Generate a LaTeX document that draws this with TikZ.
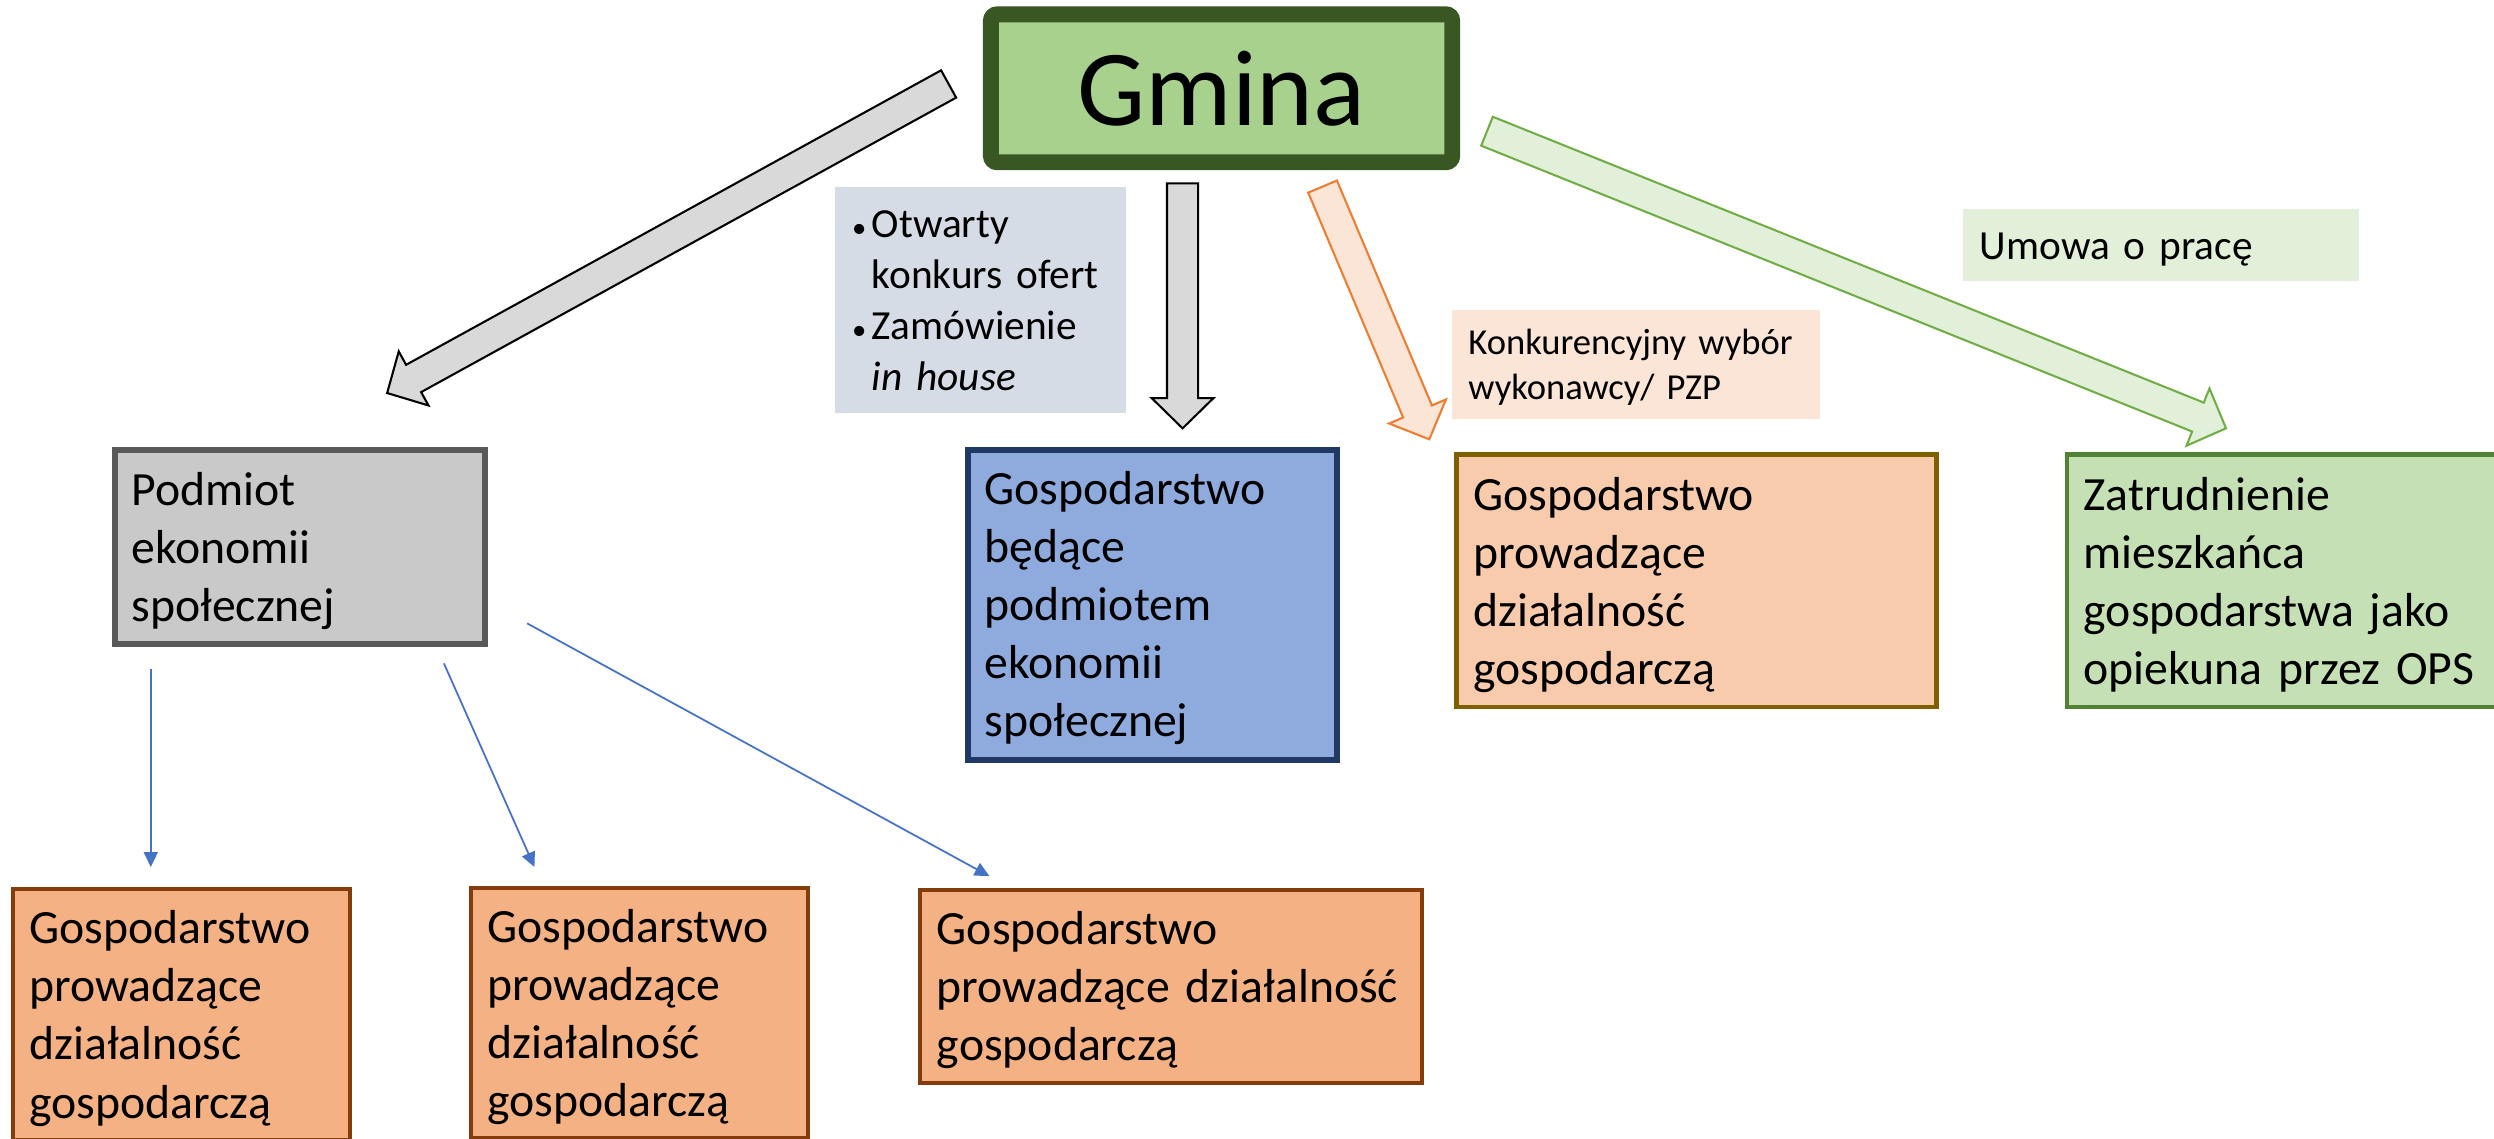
\documentclass[tikz,border=0pt]{standalone}
\usepackage{fontspec}
\setmainfont{Carlito}
\usetikzlibrary{arrows.meta,calc}

\definecolor{gminaFill}{HTML}{A9D18E}
\definecolor{gminaLine}{HTML}{385723}
\definecolor{greyFill}{HTML}{C9C9C9}
\definecolor{greyLine}{HTML}{595959}
\definecolor{pesFill}{HTML}{8FAADC}
\definecolor{pesLine}{HTML}{203864}
\definecolor{dgFill}{HTML}{F8CBAD}
\definecolor{dgLine}{HTML}{7F6000}
\definecolor{opsFill}{HTML}{C5E0B4}
\definecolor{opsLine}{HTML}{548235}
\definecolor{gospFill}{HTML}{F4B183}
\definecolor{gospLine}{HTML}{843C0C}
\definecolor{ofertFill}{HTML}{D6DCE5}
\definecolor{konkFill}{HTML}{FBE5D6}
\definecolor{umowaFill}{HTML}{E2F0D9}
\definecolor{arrGrey}{HTML}{D9D9D9}
\definecolor{arrOrange}{HTML}{ED7D31}
\definecolor{arrGreen}{HTML}{70AD47}
\definecolor{linkBlue}{HTML}{4472C4}

\newcommand{\pstrut}{\rule[-0.27em]{0pt}{1.22em}}
\newcommand{\pkt}{\makebox[12.4pt][l]{\fontsize{18}{18}\selectfont\textbullet}}
\newcommand{\blockarrow}[3][]{%
	\path ($(#3)!19pt!(#2)$) coordinate (bh);
	\draw[#1] ($(#2)!9.8pt!90:(#3)$) -- ($(bh)!9.8pt!-90:(#2)$) -- ($(bh)!19.4pt!-90:(#2)$) -- (#3)
		-- ($(bh)!19.4pt!90:(#2)$) -- ($(bh)!9.8pt!90:(#2)$) -- ($(#2)!9.8pt!-90:(#3)$) -- cycle;}

\begin{document}
\begin{tikzpicture}[x=1pt,y=-1pt,
		box/.style={draw, rectangle, align=left, inner xsep=10.5pt, inner ysep=0pt, outer sep=0pt,
			font=\fontsize{30}{36.5}\selectfont, execute at begin node=\pstrut, execute at end node=\pstrut},
		lbl/.style={rectangle, align=left, inner xsep=10.5pt, inner ysep=0pt, outer sep=0pt,
			execute at begin node=\pstrut, execute at end node=\pstrut},
		link/.style={-{Triangle[length=9.3pt,width=8.7pt]}, draw=linkBlue, line width=1.1pt}]
	\useasboundingbox (0,0) rectangle (1568,715.5);
	\clip (0,0) rectangle (1568,715.5);

	\node[box, align=center, fill=gminaFill, draw=gminaLine, line width=10pt, rounded corners=4pt,
		minimum width=290pt, minimum height=93pt, font=\fontsize{68}{83}\selectfont] (gmina) at (768,55.5) {Gmina};

	\node[lbl, fill=ofertFill, minimum width=182.8pt, minimum height=142.5pt, text width=161.8pt,
		font=\fontsize{26}{32}\selectfont] (tryb) at (616.6,188.65)
		{\pkt Otwarty\\\hspace*{12.4pt}konkurs ofert\\\pkt Zamówienie\\\hspace*{12.4pt}\textit{in house}};
	\node[lbl, fill=konkFill, minimum width=231.5pt, minimum height=68.7pt, text width=210.5pt,
		font=\fontsize{23}{28.3}\selectfont] (konk) at (1028.45,229.25) {Konkurencyjny wybór\\wykonawcy/ PZP};
	\node[lbl, fill=umowaFill, minimum width=248.8pt, minimum height=45.1pt, text width=227.8pt,
		font=\fontsize{26}{32}\selectfont] (umowa) at (1358.7,154.15) {Umowa o pracę};

	\node[box, fill=greyFill, draw=greyLine, line width=3.8pt, minimum width=232.6pt, minimum height=121.6pt,
		text width=211.6pt] (podmiot) at (188.4,343.9) {Podmiot\\ekonomii\\społecznej};
	\node[box, fill=pesFill, draw=pesLine, line width=3.8pt, minimum width=232.1pt, minimum height=194.9pt,
		text width=211.1pt] (gospPES) at (724.55,380.15) {Gospodarstwo\\będące\\podmiotem\\ekonomii\\społecznej};
	\node[box, fill=dgFill, draw=dgLine, line width=3pt, minimum width=301.6pt, minimum height=158.6pt,
		text width=280.6pt] (gospDG) at (1066.5,365.2) {Gospodarstwo\\prowadzące\\działalność\\gospodarczą};
	\node[box, fill=opsFill, draw=opsLine, line width=3pt, minimum width=300.5pt, minimum height=158.6pt,
		text width=279.5pt] (opiekun) at (1449.75,365.2) {Zatrudnienie\\mieszkańca\\gospodarstwa jako\\opiekuna przez OPS};

	\node[box, fill=gospFill, draw=gospLine, line width=2.5pt, minimum width=212.3pt, minimum height=157.5pt,
		text width=191.3pt] (gospA) at (114.15,637.95) {Gospodarstwo\\prowadzące\\działalność\\gospodarczą};
	\node[box, fill=gospFill, draw=gospLine, line width=2.5pt, minimum width=212pt, minimum height=157.4pt,
		text width=191pt] (gospB) at (402,637) {Gospodarstwo\\prowadzące\\działalność\\gospodarczą};
	\node[box, fill=gospFill, draw=gospLine, line width=2.5pt, minimum width=315.5pt, minimum height=121.2pt,
		text width=294.5pt] (gospC) at (736.25,620.3) {Gospodarstwo\\prowadzące działalność\\gospodarczą};

	\coordinate (toPES1) at (596.4,52.8);
	\coordinate (toPES2) at (243.4,247.1);
	\coordinate (toOwn1) at (743.5,115.3);
	\coordinate (toOwn2) at (743.5,269.3);
	\coordinate (toDG1) at (831.5,117.3);
	\coordinate (toDG2) at (898.6,276.2);
	\coordinate (toOps1) at (934.9,82.5);
	\coordinate (toOps2) at (1399.5,269.3);
	\blockarrow[fill=arrGrey, draw=black, line width=1.3pt]{toPES1}{toPES2}
	\blockarrow[fill=arrGrey, draw=black, line width=1.3pt]{toOwn1}{toOwn2}
	\blockarrow[fill=konkFill, draw=arrOrange, line width=1.3pt]{toDG1}{toDG2}
	\blockarrow[fill=umowaFill, draw=arrGreen, line width=1.3pt]{toOps1}{toOps2}

	\coordinate (outA) at (94.8,420.4);
	\coordinate (inA) at (94.8,545.1);
	\coordinate (outB) at (279.1,417.1);
	\coordinate (inB) at (336,545.1);
	\coordinate (outC) at (331.4,391.9);
	\coordinate (inC) at (622.1,550.9);
	\draw[link] (outA) -- (inA);
	\draw[link] (outB) -- (inB);
	\draw[link] (outC) -- (inC);
\end{tikzpicture}
\end{document}
